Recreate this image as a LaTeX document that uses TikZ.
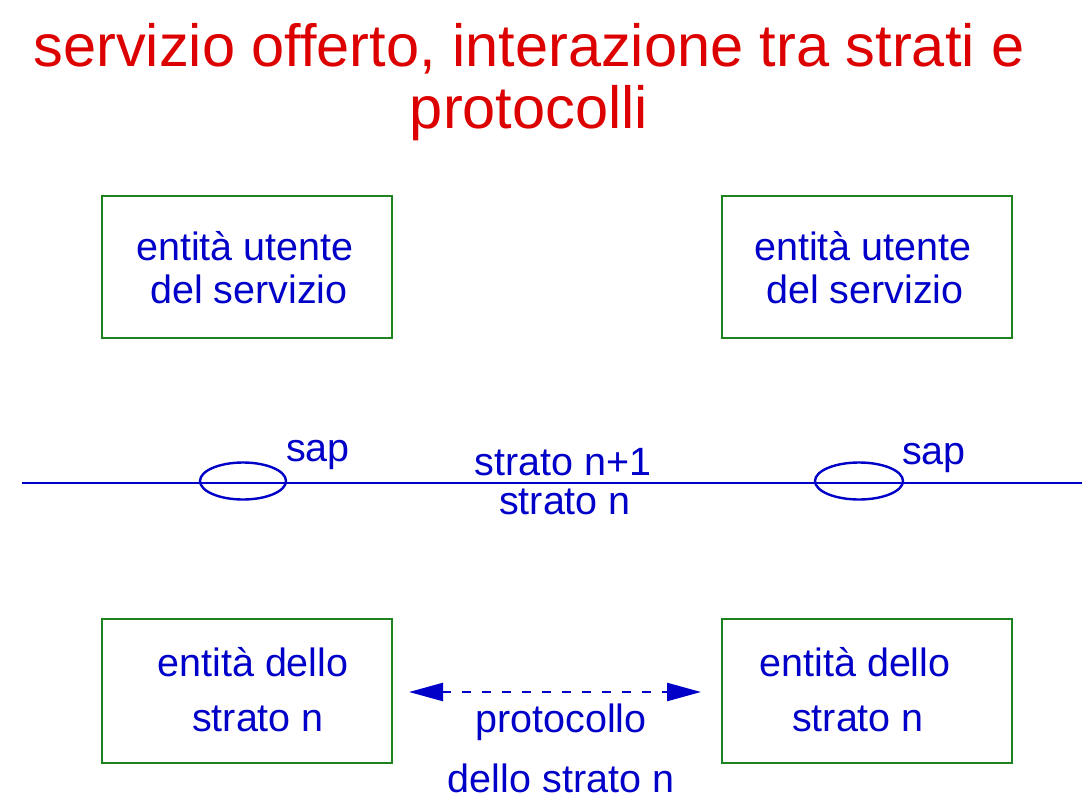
\documentclass[tikz,border=0pt]{standalone}
\usepackage{fontspec}
\setmainfont{Liberation Sans}
\usetikzlibrary{arrows.meta}
\definecolor{txtblue}{RGB}{0,0,200}
\definecolor{boxgreen}{RGB}{30,130,30}
\definecolor{titlered}{RGB}{220,0,0}
\begin{document}
\begin{tikzpicture}[x=1pt,y=-1pt,
  entbox/.style={draw=boxgreen,line width=2.2pt,minimum width=290pt,minimum height=142pt,anchor=north west,inner sep=0pt},
  lbl/.style={text=txtblue,font=\fontsize{39.5}{46}\selectfont,inner sep=0pt},
  ttl/.style={text=titlered,font=\fontsize{59.5}{70}\selectfont,inner sep=0pt},
  bl/.style={txtblue,line width=2.4pt}]
\useasboundingbox (0,0) rectangle (1092,808);
\node[ttl] (t1) at (529,49) {servizio offerto, interazione tra strati e};
\node[ttl] (t2) at (529,113) {protocolli};
% boxes
\node[entbox] (ul) at (101,195) {};
\node[entbox] (ur) at (721,195) {};
\node[entbox,minimum height=144pt] (ll) at (101,618) {};
\node[entbox,minimum height=144pt] (lr) at (721,618) {};
% box texts
\node[lbl] (ult1) at (245,246) {entità utente};
\node[lbl] (ult2) at (249,289) {del servizio};
\node[lbl] (urt1) at (863,246) {entità utente};
\node[lbl] (urt2) at (865,289) {del servizio};
\node[lbl] (llt1) at (253,662) {entità dello};
\node[lbl] (llt2) at (258,719) {strato n};
\node[lbl] (lrt1) at (855,662) {entità dello};
\node[lbl] (lrt2) at (858,719) {strato n};
% layer line
\coordinate (la) at (22,483);
\coordinate (lb) at (1082,483);
\draw[bl] (la) -- (lb);
\draw[bl] (243,481) ellipse [x radius=43, y radius=18.5];
\draw[bl] (859,481) ellipse [x radius=44, y radius=18.5];
\node[lbl] (sap1) at (318,455) {sap};
\node[lbl] (sap2) at (934,458) {sap};
\node[lbl] (sn1) at (563,462) {strato n+1};
\node[lbl] (sn2) at (565,502) {strato n};
% protocol arrow
\coordinate (pa) at (409,692);
\coordinate (pb) at (701,692);
\draw[bl,dash pattern=on 9pt off 11pt,
  {Triangle[length=34pt,width=18pt]}-{Triangle[length=34pt,width=18pt]}] (pa) -- (pb);
\node[lbl] (pr1) at (561,722) {protocollo};
\node[lbl] (pr2) at (561,778) {dello strato n};
\end{tikzpicture}
\end{document}
